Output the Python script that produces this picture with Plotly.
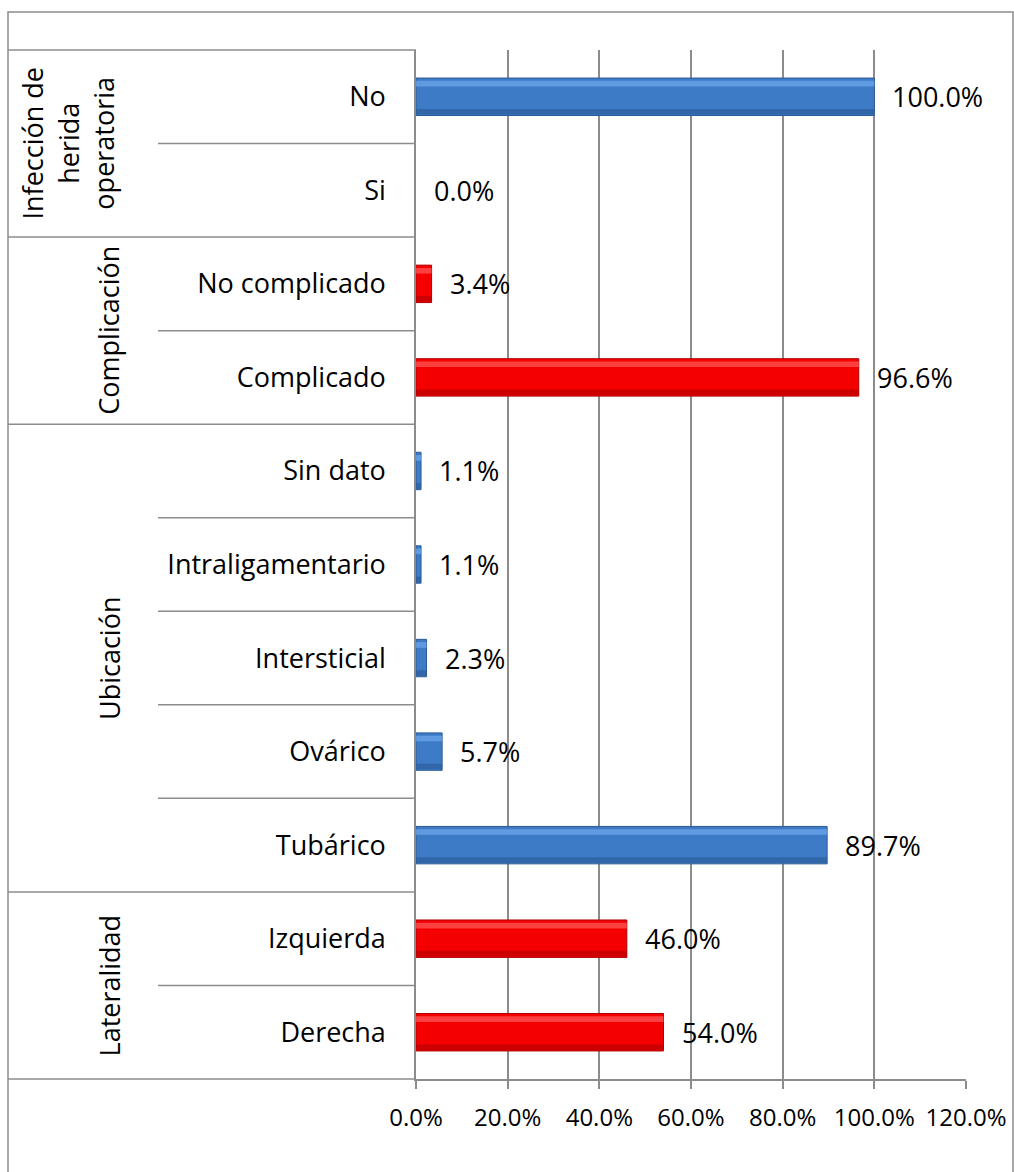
import plotly.graph_objects as go

# ---- data (bottom to top) ----
categories = ["Derecha", "Izquierda", "Tubárico", "Ovárico", "Intersticial",
              "Intraligamentario", "Sin dato", "Complicado", "No complicado", "Si", "No"]
values = [0.540, 0.460, 0.897, 0.057, 0.023, 0.011, 0.011, 0.966, 0.034, 0.0, 1.0]
groups = ["Lateralidad", "Ubicación", "Complicación", "Infección de<br>herida<br>operatoria"]
group_sizes = [2, 5, 2, 2]
group_colors = ["red", "blue", "red", "blue"]
x_ticks = [0, 0.2, 0.4, 0.6, 0.8, 1.0, 1.2]

palette = {
    "red": dict(main="#F50000", light="#FF5A5A", dark="#B00000"),
    "blue": dict(main="#3D7BC6", light="#6FA8EC", dark="#2A5A96"),
}

FONT = "Open Sans, sans-serif"
W, H = 1014, 1172
L, R, T, B = 416, 48, 50, 93
pw = W - L - R
ph = H - T - B

def px_x(px):
    return (px - L) / pw

def px_y(py):
    return (H - B - py) / ph

bar_colors, light_colors, dark_colors = [], [], []
for g, n in zip(group_colors, group_sizes):
    bar_colors += [palette[g]["main"]] * n
    light_colors += [palette[g]["light"]] * n
    dark_colors += [palette[g]["dark"]] * n
edge_widths = [1 if v > 0 else 0 for v in values]

fig = go.Figure()
# main bars
fig.add_trace(go.Bar(
    y=categories, x=values, orientation="h", width=0.4, offset=-0.2,
    marker=dict(color=bar_colors, line=dict(color=dark_colors, width=edge_widths)),
    hoverinfo="x+y", showlegend=False))
# top highlight strip
fig.add_trace(go.Bar(
    y=categories, x=values, orientation="h", width=0.06, offset=0.11,
    marker=dict(color=light_colors, line=dict(width=0), opacity=0.7),
    hoverinfo="skip", showlegend=False))
# bottom shadow strip
fig.add_trace(go.Bar(
    y=categories, x=values, orientation="h", width=0.06, offset=-0.19,
    marker=dict(color=dark_colors, line=dict(width=0), opacity=0.6),
    hoverinfo="skip", showlegend=False))

annotations = []
# value labels
for c, v in zip(categories, values):
    annotations.append(dict(
        x=v, y=c, xref="x", yref="y", text=f"{v*100:.1f}%", showarrow=False,
        xanchor="left", xshift=16, font=dict(size=27, color="#000", family=FONT)))

shapes = []
line_col = "#8C8C8C"
# outer border
shapes.append(dict(type="rect", xref="paper", yref="paper",
                   x0=px_x(8), x1=px_x(1013), y0=px_y(12), y1=px_y(1180),
                   line=dict(color=line_col, width=1.5), layer="above"))
# top line of the label area
shapes.append(dict(type="line", xref="paper", yref="paper",
                   x0=px_x(8), x1=0, y0=1, y1=1, line=dict(color=line_col, width=1.5)))
# bottom line (axis level) of label area
shapes.append(dict(type="line", xref="paper", yref="paper",
                   x0=px_x(8), x1=0, y0=0, y1=0, line=dict(color=line_col, width=1.5)))

start = 0
for g, n in zip(groups, group_sizes):
    end = start + n
    if end < len(categories):
        shapes.append(dict(type="line", xref="paper", yref="y",
                           x0=px_x(8), x1=0, y0=end - 0.5, y1=end - 0.5,
                           line=dict(color=line_col, width=1.5)))
    for k in range(start + 1, end):
        shapes.append(dict(type="line", xref="paper", yref="y",
                           x0=px_x(158), x1=0, y0=k - 0.5, y1=k - 0.5,
                           line=dict(color=line_col, width=1.5)))
    gx = 68 if "<br>" in g else 109
    annotations.append(dict(
        x=px_x(gx), y=(start + end - 1) / 2, xref="paper", yref="y",
        text=g, textangle=-90, showarrow=False, xanchor="center", yanchor="middle",
        font=dict(size=27, color="#000", family=FONT)))
    start = end

fig.update_layout(
    width=W, height=H,
    margin=dict(l=L, r=R, t=T, b=B, autoexpand=False),
    paper_bgcolor="white", plot_bgcolor="white",
    barmode="overlay",
    font=dict(family=FONT, color="#000"),
    shapes=shapes, annotations=annotations,
    xaxis=dict(range=[0, 1.2], tickvals=x_ticks, tickformat=".1%",
               showgrid=True, gridcolor=line_col, gridwidth=1.5,
               zeroline=False, showline=True, linecolor=line_col, linewidth=1.5,
               ticks="outside", ticklen=8, tickcolor=line_col, tickwidth=1.5,
               tickfont=dict(size=24, color="#000", family=FONT),
               ticklabelstandoff=8, fixedrange=True, automargin=False),
    yaxis=dict(categoryorder="array", categoryarray=categories,
               range=[-0.5, len(categories) - 0.5],
               showgrid=False, zeroline=False, showline=True, linecolor=line_col,
               linewidth=1.5, ticks="", tickfont=dict(size=27, color="#000", family=FONT),
               ticklabelstandoff=23, fixedrange=True, automargin=False),
)

fig.write_html("out.html")
